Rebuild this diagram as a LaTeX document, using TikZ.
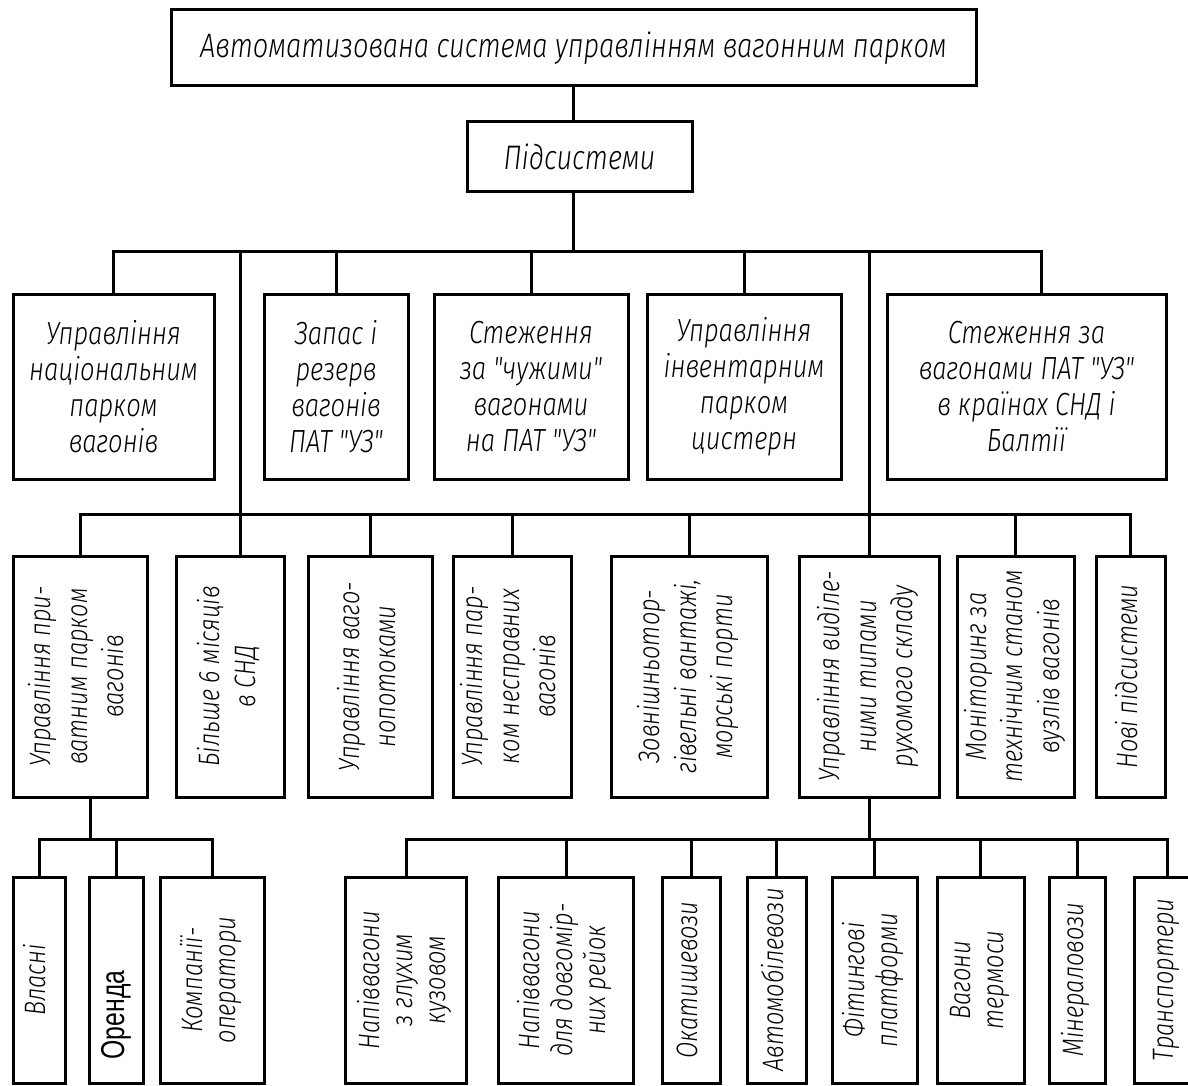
\documentclass[tikz,border=0pt]{standalone}
\usepackage{fontspec}
\usepackage{graphicx}
\newfontfamily\gost{Fira Sans}[UprightFont=* Light, ItalicFont=* Light Italic, FakeStretch=0.8]
\newfontfamily\plainsans{Liberation Sans}[FakeStretch=0.75]
\newcommand{\vtext}[1]{\rotatebox{90}{\begin{tabular}{@{}c@{}}#1\end{tabular}}}
\begin{document}
\begin{tikzpicture}[x=1pt,y=-1pt,
  box/.style={draw, line width=3pt, inner sep=0pt, align=center},
  ttl/.style={font=\fontsize{34}{40}\selectfont\gost\itshape},
  lvtwo/.style={font=\fontsize{32}{36}\selectfont\gost\itshape},
  lvthree/.style={font=\fontsize{29.5}{36.5}\selectfont\gost\itshape},
  lvfour/.style={font=\fontsize{29.5}{33}\selectfont\gost\itshape},
  conn/.style={line width=3pt, line cap=rect},
]
\path[use as bounding box, fill=white] (0,0) rectangle (1188,1086);

% level 0 / 1
\node[box, ttl, minimum width=805, minimum height=76] (top) at (573.5,48) {Автоматизована система управлінням вагонним парком};
\node[box, ttl, minimum width=225, minimum height=70] (sub) at (579.5,157) {Підсистеми};

% level 2
\node[box, lvtwo, minimum width=201, minimum height=185] (n1) at (113.5,386.5) {Управління\\національним\\парком\\вагонів};
\node[box, lvtwo, minimum width=144, minimum height=185] (n2) at (336,386.5) {Запас і\\резерв\\вагонів\\ПАТ "УЗ"};
\node[box, lvtwo, minimum width=194, minimum height=185] (n3) at (531,386.5) {Стеження\\за "чужими"\\вагонами\\на ПАТ "УЗ"};
\node[box, lvtwo, minimum width=194, minimum height=185] (n4) at (744,386.5) {Управління\\інвентарним\\парком\\цистерн};
\node[box, lvtwo, minimum width=279, minimum height=185] (n5) at (1026.5,386.5) {Стеження за\\вагонами ПАТ "УЗ"\\в країнах СНД і\\Балтії};

% level 3
\node[box, lvthree, minimum width=134, minimum height=241] (a) at (80,676.5) {\vtext{Управління при-\\ватним парком\\вагонів}};
\node[box, lvthree, minimum width=108, minimum height=241] (b) at (230,676.5) {\vtext{Більше 6 місяців\\в СНД}};
\node[box, lvthree, minimum width=124, minimum height=241] (c) at (370,676.5) {\vtext{Управління ваго-\\нопотоками}};
\node[box, lvthree, minimum width=118, minimum height=241] (d) at (512,676.5) {\vtext{Управління пар-\\ком несправних\\вагонів}};
\node[box, lvthree, minimum width=156, minimum height=241] (e) at (689,676.5) {\vtext{Зовнішньотор-\\гівельні вантажі,\\морські порти}};
\node[box, lvthree, minimum width=140, minimum height=241] (f) at (869,676.5) {\vtext{Управління виділе-\\ними типами\\рухомого складу}};
\node[box, lvthree, minimum width=117, minimum height=241] (g) at (1015.5,676.5) {\vtext{Моніторинг за\\технічним станом\\вузлів вагонів}};
\node[box, lvthree, minimum width=69, minimum height=241] (h) at (1130.5,676.5) {\vtext{Нові підсистеми}};

% level 4 left
\node[box, lvfour, minimum width=52, minimum height=206] (p1) at (39,980) {\vtext{Власні}};
\node[box, font=\fontsize{33}{36}\selectfont\plainsans, minimum width=54, minimum height=206] (p2) at (116,980) {\rotatebox{90}{Оренда\hspace{70pt}}};
\node[box, lvfour, minimum width=104, minimum height=206] (p3) at (212,980) {\vtext{Компанії-\\оператори}};

% level 4 right
\node[box, lvfour, minimum width=121, minimum height=206] (r1) at (406,980) {\vtext{Напіввагони\\з глухим\\кузовом}};
\node[box, lvfour, minimum width=135, minimum height=206] (r2) at (566,980) {\vtext{Напіввагони\\для довгомір-\\них рейок}};
\node[box, lvfour, minimum width=58, minimum height=206] (r3) at (691,980) {\vtext{Окатишевози}};
\node[box, lvfour, minimum width=59, minimum height=206] (r4) at (776.5,980) {\vtext{Автомобілевози}};
\node[box, lvfour, minimum width=85, minimum height=206] (r5) at (874.5,980) {\vtext{Фітингові\\платформи}};
\node[box, lvfour, minimum width=87, minimum height=206] (r6) at (980.5,980) {\vtext{Вагони\\термоси}};
\node[box, lvfour, minimum width=56, minimum height=206] (r7) at (1077,980) {\vtext{Мінераловози}};
\node[box, lvfour, minimum width=66, minimum height=206] (r8) at (1167,980) {\vtext{Транспортери}};

% bus coordinates
\coordinate (b1L) at (113.5,251);
\coordinate (b1R) at (1041,251);
\coordinate (v1) at (240,251);
\coordinate (v2) at (869,251);
\coordinate (b2L) at (80,514);
\coordinate (b2R) at (1130.5,514);
\coordinate (b3L) at (39,839);
\coordinate (b3R) at (1167,839);
\coordinate (b3M) at (406,839);
\coordinate (da) at (90,839);

% connectors top
\draw[conn] (top.south) -- (top.south |- sub.north);
\draw[conn] (top.south |- sub.south) -- (top.south |- b1L);
\draw[conn] (b1L) -- (b1R);
\draw[conn] (b1L) -- (n1.north);
\draw[conn] (n2.north |- b1L) -- (n2.north);
\draw[conn] (n3.north |- b1L) -- (n3.north);
\draw[conn] (n4.north |- b1L) -- (n4.north);
\draw[conn] (b1R) -- (b1R |- n5.north);

% long lines and bus 2
\draw[conn] (v1) -- (v1 |- b.north);
\draw[conn] (v2) -- (f.north);
\draw[conn] (b2L) -- (b2R);
\draw[conn] (b2L) -- (a.north);
\draw[conn] (c.north |- b2L) -- (c.north);
\draw[conn] (d.north |- b2L) -- (d.north);
\draw[conn] (e.north |- b2L) -- (e.north);
\draw[conn] (g.north |- b2L) -- (g.north);
\draw[conn] (b2R) -- (h.north);

% bus 3 left
\draw[conn] (da |- a.south) -- (da);
\draw[conn] (b3L) -- (p3.north |- b3L);
\draw[conn] (b3L) -- (p1.north);
\draw[conn] (p2.north |- b3L) -- (p2.north);
\draw[conn] (p3.north |- b3L) -- (p3.north);

% bus 3 right
\draw[conn] (f.south) -- (f.south |- b3R);
\draw[conn] (b3M) -- (b3R);
\draw[conn] (b3M) -- (r1.north);
\draw[conn] (r2.north |- b3R) -- (r2.north);
\draw[conn] (r3.north |- b3R) -- (r3.north);
\draw[conn] (r4.north |- b3R) -- (r4.north);
\draw[conn] (r5.north |- b3R) -- (r5.north);
\draw[conn] (r6.north |- b3R) -- (r6.north);
\draw[conn] (r7.north |- b3R) -- (r7.north);
\draw[conn] (b3R) -- (r8.north);
\end{tikzpicture}
\end{document}
